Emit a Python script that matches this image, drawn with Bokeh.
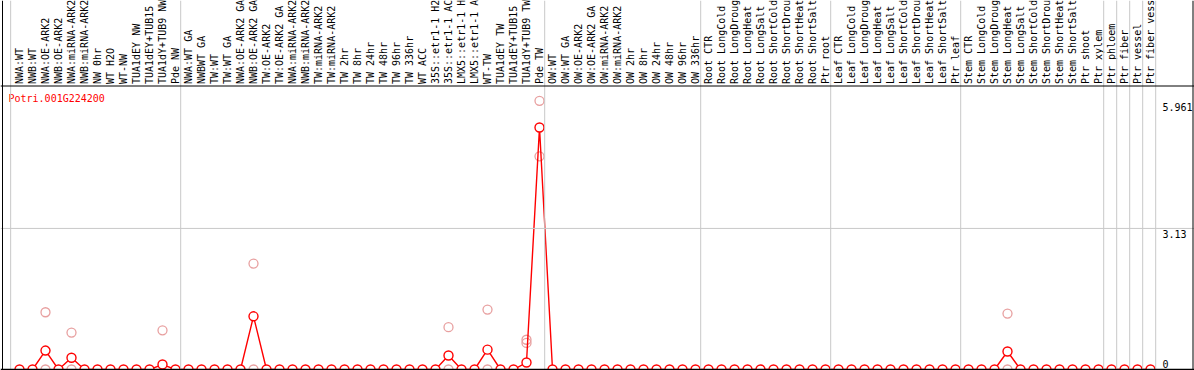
import math
from bokeh.plotting import figure
from bokeh.models import Range1d, Span, ColumnDataSource
from bokeh.core.properties import value
from bokeh.embed import file_html
from bokeh.resources import INLINE

# ---------------- data ----------------
gene_id = "Potri.001G224200"

labels = [
    "NWA:WT", "NWB:WT", "NWA:OE-ARK2", "NWB:OE-ARK2", "NWA:miRNA-ARK2", "NWB:miRNA-ARK2",
    "NW 0hr", "WT H2O", "WT-NW", "TUA1dEY NW", "TUA1dEY+TUB15", "TUA1dY+TUB9 NW", "Pde NW",
    "NWA:WT GA", "NWBWT GA", "TW:WT", "TW:WT GA", "NWA:OE-ARK2 GA", "NWB:OE-ARK2 GA",
    "TW:OE-ARK2", "TW:OE-ARK2 GA", "NWA:miRNA-ARK2", "NWB:miRNA-ARK2", "TW:miRNA-ARK2",
    "TW:miRNA-ARK2", "TW 2hr", "TW 8hr", "TW 24hr", "TW 48hr", "TW 96hr", "TW 336hr",
    "WT ACC", "35S::etr1-1 H2", "35S::etr1-1 AC", "LMX5::etr1-1 H", "LMX5::etr1-1 A",
    "WT-TW", "TUA1dEY TW", "TUA1dEY+TUB15", "TUA1dY+TUB9 TW", "Pde TW",
    "OW:WT", "OW:WT GA", "OW:OE-ARK2", "OW:OE-ARK2 GA", "OW:miRNA-ARK2", "OW:miRNA-ARK2",
    "OW 2hr", "OW 8hr", "OW 24hr", "OW 48hr", "OW 96hr", "OW 336hr",
    "Root CTR", "Root LongCold", "Root LongDroug", "Root LongHeat", "Root LongSalt",
    "Root ShortCold", "Root ShortDrou", "Root ShortHeat", "Root ShortSalt", "Ptr root",
    "Leaf CTR", "Leaf LongCold", "Leaf LongDroug", "Leaf LongHeat", "Leaf LongSalt",
    "Leaf ShortCold", "Leaf ShortDrou", "Leaf ShortHeat", "Leaf ShortSalt", "Ptr leaf",
    "Stem CTR", "Stem LongCold", "Stem LongDroug", "Stem LongHeat", "Stem LongSalt",
    "Stem ShortCold", "Stem ShortDrou", "Stem ShortHeat", "Stem ShortSalt", "Ptr shoot",
    "Ptr xylem", "Ptr phloem", "Ptr fiber", "Ptr vessel", "Ptr fiber vess",
]

# mean expression per sample (all others are 0)
means = [0.0] * len(labels)
nonzero_means = {2: 0.42, 4: 0.26, 11: 0.11, 18: 1.18, 33: 0.31, 36: 0.44,
                 39: 0.155, 40: 5.37, 76: 0.40}
for k, v in nonzero_means.items():
    means[k] = v

# individual replicate values (sample index, value)
rep_idx = [2, 2, 4, 4, 11, 18, 18, 33, 33, 36, 36, 39, 39, 40, 40, 76, 76]
rep_val = [1.27, 0.0, 0.82, 0.0, 0.87, 2.35, 0.0, 0.94, 0.0, 1.33, 0.0,
           0.66, 0.59, 5.961, 4.73, 1.24, 0.0]

# last sample index of each group (vertical separators)
group_ends = [12, 40, 52, 62, 72, 83, 84, 85, 86, 87]

scale_ticks = [5.961, 3.13, 0]
scale_labels = ["5.961", "3.13", "0"]
mid_grid = 3.13
header_level = 6.29

# ---------------- layout (pixels -> data) ----------------
W, H = 1194, 370
XS = 13.0        # px per sample
X0 = 19.0        # px of sample 0
Y0 = 369.0       # px (from top) of value 0
HEADER_PX = 85.5
YS = (Y0 - HEADER_PX) / header_level

def xd(px):
    return (px - X0) / XS

x_range = Range1d(xd(0), xd(W))
y_range = Range1d(-(H - Y0) / YS, Y0 / YS)

p = figure(width=W, height=H, x_range=x_range, y_range=y_range,
           output_backend="svg", toolbar_location=None, min_border=0,
           x_axis_type=None, y_axis_type=None, outline_line_color=None,
           background_fill_color="white", border_fill_color="white")
p.grid.visible = False

GRID = "#c8c8c8"
# vertical separators
p.add_layout(Span(location=-0.68, dimension="height", line_color=GRID, line_width=1))
for e in group_ends:
    p.add_layout(Span(location=e + 0.4, dimension="height", line_color=GRID, line_width=1))
# middle horizontal grid
p.add_layout(Span(location=mid_grid, dimension="width", line_color=GRID, line_width=1))
# frame lines
p.add_layout(Span(location=header_level, dimension="width", line_color="black", line_width=1))
p.add_layout(Span(location=0, dimension="width", line_color="black", line_width=1.5))
p.add_layout(Span(location=xd(2), dimension="height", line_color="black", line_width=1))
p.add_layout(Span(location=xd(1192.5), dimension="height", line_color="black", line_width=1))

FONT = value("DejaVu Sans Mono")

# column labels (rotated)
idx = list(range(len(labels)))
p.text(x=idx, y=[header_level] * len(labels), text=labels, angle=math.pi / 2,
       text_font=FONT, text_font_size="10px", text_color="black",
       text_align="left", text_baseline="middle", y_offset=-2)

# gene id
p.text(x=[xd(8)], y=[header_level], text=[gene_id], text_font=FONT,
       text_font_size="10px", text_color="red", text_align="left",
       text_baseline="top", y_offset=7)

# scale labels
p.text(x=[xd(1162), xd(1162)], y=scale_ticks[:2], text=scale_labels[:2], text_font=FONT,
       text_font_size="10px", text_color="black", text_align="left",
       text_baseline="top", y_offset=2)
p.text(x=[xd(1162)], y=scale_ticks[2:], text=scale_labels[2:], text_font=FONT,
       text_font_size="10px", text_color="black", text_align="left",
       text_baseline="bottom", y_offset=-2)

# replicates
p.scatter(x=rep_idx, y=rep_val, marker="circle", size=9, line_color="#e8a0a0",
          fill_color=None, line_width=1.3)

# mean line and points
src = ColumnDataSource(dict(x=idx, y=means))
p.line(x="x", y="y", source=src, line_color="red", line_width=1.4)
p.scatter(x="x", y="y", source=src, marker="circle", size=9, line_color="red",
          fill_color="white", line_width=1.4)

open("out.html", "w").write(file_html(p, INLINE))
